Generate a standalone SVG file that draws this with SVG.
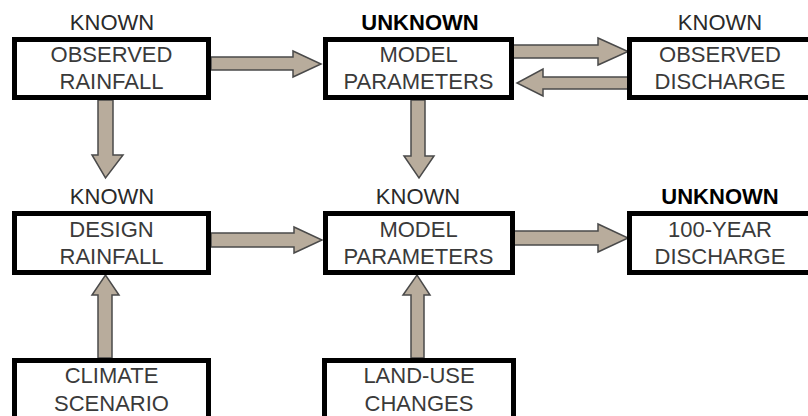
<svg xmlns="http://www.w3.org/2000/svg" width="808" height="416" viewBox="0 0 808 416">
<style>
.box{fill:#fff;stroke:#000;stroke-width:5}
.arr{fill:#b8ac9c;stroke:#4a4a4a;stroke-width:1.5;stroke-linejoin:miter}
.t{font-family:"Liberation Sans",Arial,sans-serif;font-size:22px;fill:#3a3a3a;text-anchor:middle}
.k{font-family:"Liberation Sans",Arial,sans-serif;font-size:22px;fill:#2a2a2a;text-anchor:middle}
.u{font-family:"Liberation Sans",Arial,sans-serif;font-size:22px;font-weight:bold;fill:#000;text-anchor:middle}
</style>
<rect width="808" height="416" fill="#fff"/>
<g id="connectors">
<path class="arr" d="M211,57 H293 V51 L321,64 L293,77 V70 H211 Z"/>
<path class="arr" d="M513,45 H598 V38 L628,51.5 L598,65 V58 H513 Z"/>
<path class="arr" d="M628,77 H543 V69 L517,83 L543,96 V89 H628 Z"/>
<path class="arr" d="M98,100 V155 H92 L105.5,178 L123,155 H113 V100 Z"/>
<path class="arr" d="M411,100 V156 H404 L419,178 L434,156 H425 V100 Z"/>
<path class="arr" d="M211,233 H294 V227 L322,240 L294,253 V247 H211 Z"/>
<path class="arr" d="M514,231 H598 V224 L628,238 L598,252 V245 H514 Z"/>
<path class="arr" d="M98,358 V295 H92 L105.5,275 L119,295 H112 V358 Z"/>
<path class="arr" d="M411,358 V295 H403 L417,275 L430,295 H424 V358 Z"/>
</g>
<g id="observed-rainfall">
<text class="k" x="112" y="30">KNOWN</text>
<rect class="box" x="14.5" y="39.5" width="194" height="58"/>
<text class="t" x="111.5" y="62">OBSERVED</text>
<text class="t" x="111.5" y="89">RAINFALL</text>
</g>
<g id="model-parameters-1">
<text class="u" x="420" y="30">UNKNOWN</text>
<rect class="box" x="325.5" y="39.5" width="186" height="58"/>
<text class="t" x="418.5" y="62">MODEL</text>
<text class="t" x="418.5" y="89">PARAMETERS</text>
</g>
<g id="observed-discharge">
<text class="k" x="720" y="30">KNOWN</text>
<rect class="box" x="629.5" y="39.5" width="190" height="58"/>
<text class="t" x="720" y="62">OBSERVED</text>
<text class="t" x="720" y="89">DISCHARGE</text>
</g>
<g id="design-rainfall">
<text class="k" x="112" y="204">KNOWN</text>
<rect class="box" x="14.5" y="213.5" width="194" height="59"/>
<text class="t" x="111.5" y="237">DESIGN</text>
<text class="t" x="111.5" y="264">RAINFALL</text>
</g>
<g id="model-parameters-2">
<text class="k" x="418" y="204">KNOWN</text>
<rect class="box" x="325.5" y="213.5" width="187" height="59"/>
<text class="t" x="418.5" y="237">MODEL</text>
<text class="t" x="418.5" y="264">PARAMETERS</text>
</g>
<g id="hundred-year-discharge">
<text class="u" x="720" y="204">UNKNOWN</text>
<rect class="box" x="629.5" y="213.5" width="190" height="59"/>
<text class="t" x="720" y="237">100-YEAR</text>
<text class="t" x="720" y="264">DISCHARGE</text>
</g>
<g id="climate-scenario">
<rect class="box" x="14.5" y="360.5" width="194" height="64"/>
<text class="t" x="111.5" y="383">CLIMATE</text>
<text class="t" x="111.5" y="411">SCENARIO</text>
</g>
<g id="land-use-changes">
<rect class="box" x="324.5" y="360.5" width="189" height="64"/>
<text class="t" x="419" y="383">LAND-USE</text>
<text class="t" x="419" y="411">CHANGES</text>
</g>
</svg>
